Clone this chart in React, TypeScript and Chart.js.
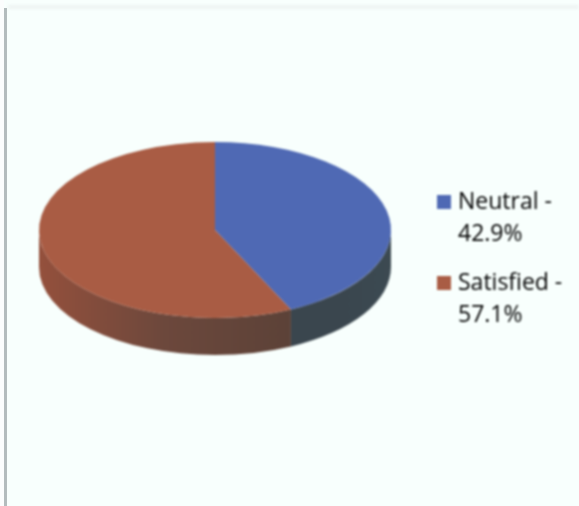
import React, { useEffect, useRef } from "react";
import { Chart, registerables } from "chart.js";

Chart.register(...registerables);

const categories = ["Neutral", "Satisfied"];
const values = [42.9, 57.1];
const colors = ["#4f69b4", "#a95c44"];
const sideStops = [
  ["#3c4a52", "#3a464e", "#3a464e"],
  ["#5c4238", "#6c483c", "#94503c"],
];

const squash = 0.5;
const depth = 37;

function swatch(color: string) {
  const c = document.createElement("canvas");
  c.width = 14;
  c.height = 14;
  const x = c.getContext("2d") as CanvasRenderingContext2D;
  x.fillStyle = color;
  x.fillRect(0, 0, 14, 14);
  return c;
}

const pie3d = {
  id: "pie3d",
  afterLayout(chart: any) {
    const lg = chart.legend;
    const w = lg.width;
    const h = lg.height;
    lg.left = 424.5;
    lg.right = 424.5 + w;
    lg.top = 173.5;
    lg.bottom = 173.5 + h;
  },
  beforeDatasetsDraw(chart: any) {
    const { ctx } = chart;
    const arcs = chart.getDatasetMeta(0).data;
    const { x: cx, y: cy, outerRadius: r } = arcs[0];
    arcs.forEach((arc: any, i: number) => {
      const a0 = Math.max(arc.startAngle, 0);
      const a1 = Math.min(arc.endAngle, Math.PI);
      if (a1 <= a0) return;
      const xa = cx + r * Math.cos(a0);
      const xb = cx + r * Math.cos(a1);
      const g = ctx.createLinearGradient(xa, 0, xb, 0);
      sideStops[i].forEach((c, k) => g.addColorStop(k / 2, c));
      ctx.save();
      ctx.beginPath();
      ctx.ellipse(cx, cy, r, r * squash, 0, a0, a1);
      ctx.ellipse(cx, cy + depth, r, r * squash, 0, a1, a0, true);
      ctx.closePath();
      ctx.fillStyle = g;
      ctx.fill();
      ctx.restore();
    });
    ctx.save();
    ctx.translate(cx, cy);
    ctx.scale(1, squash);
    ctx.translate(-cx, -cy);
  },
  afterDatasetsDraw(chart: any) {
    chart.ctx.restore();
  },
};

export default function App() {
  const ref = useRef<HTMLCanvasElement>(null);
  useEffect(() => {
    const chart = new Chart(ref.current as HTMLCanvasElement, {
      type: "pie",
      data: {
        labels: categories,
        datasets: [{ data: values, backgroundColor: colors, borderWidth: 0 }],
      },
      options: {
        animation: false,
        responsive: false,
        layout: { padding: { left: 39, right: 188, top: 54, bottom: 100 } },
        plugins: {
          tooltip: { enabled: false },
          legend: {
            position: "chartArea",
            align: "start",
            labels: {
              usePointStyle: true,
              pointStyleWidth: 5,
              boxWidth: 5,
              boxHeight: 14,
              padding: 17,
              color: "#5b6169",
              font: { family: "'Open Sans'", size: 23, lineHeight: "32px" },
              generateLabels: () =>
                categories.map((c, i) => ({
                  text: [`${c} -`, `${values[i]}%`],
                  fillStyle: colors[i],
                  strokeStyle: colors[i],
                  lineWidth: 0,
                  hidden: false,
                  index: i,
                  pointStyle: swatch(colors[i]),
                })),
            },
          },
        },
      },
      plugins: [pie3d],
    } as any);
    return () => chart.destroy();
  }, []);
  return (
    <div style={{ position: "fixed", left: 0, top: 0, width: 579, height: 506, background: "#f8fffd", overflow: "hidden" }}>
      <div style={{ position: "absolute", left: 0, top: 0, width: 4, height: 506, background: "#fbfdfd" }} />
      <div style={{ position: "absolute", left: 8, top: 5, width: 571, height: 4, background: "#eef4f3", filter: "blur(1.5px)" }} />
      <div style={{ position: "absolute", left: 4, top: 8, width: 3, height: 498, background: "#b3bcbd" }} />
      <canvas ref={ref} width={579} height={506} style={{ position: "absolute", left: 0, top: 0, filter: "blur(1px)" }} />
    </div>
  );
}
